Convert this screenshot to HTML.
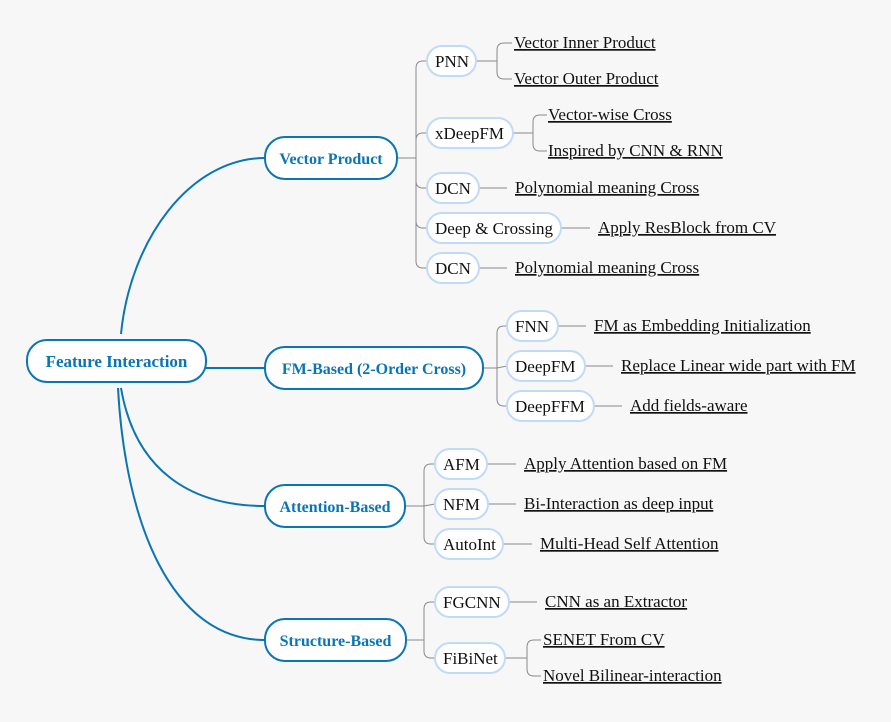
<!DOCTYPE html>
<html><head><meta charset="utf-8"><style>
html,body{margin:0;padding:0;background:#f7f7f7;}
svg{display:block;}
svg text{font-family:"Liberation Serif","Noto Serif CJK SC","DejaVu Serif",serif !important;}
</style></head><body>
<svg id="s" width="891" height="722" xmlns="http://www.w3.org/2000/svg">
<rect width="891" height="722" fill="#f7f7f7"/>
<g fill="none" stroke="#0a75b5" stroke-width="2">
<path d="M121,334 C130,240 190,158 265,158"/>
<path d="M206,368 L265,368"/>
<path d="M121,388 C135,470 190,506 265,506"/>
<path d="M118,388 C125,520 170,640 265,640"/>
</g>
<g id="g"></g>
</svg>
<script>
const g=document.getElementById('g');let h='';
const F='font-family="\'Liberation Serif\', \'Noto Serif CJK SC\', \'DejaVu Serif\', serif"';
function path(d,c,w){h+=`<path d="${d}" fill="none" stroke="${c}" stroke-width="${w}"/>`;}
function bracket(px,py,bx,kids){
 path(`M${px},${py} L${bx},${py}`,'#8a8a8a',1);
 kids.forEach(([cx,cy])=>{
  if(Math.abs(cy-py)<3){path(`M${bx},${py} L${cx},${cy}`,'#8a8a8a',1);return;}
  const s=cy>py?1:-1;
  path(`M${bx},${py} L${bx},${cy-s*7} Q${bx},${cy} ${bx+7},${cy} L${cx},${cy}`,'#8a8a8a',1);
 });
}
function line(x1,x2,y){path(`M${x1},${y} L${x2},${y}`,'#8a8a8a',1);}
function main(x1,x2,y,t,fs){h+=`<rect x="${x1}" y="${y-21}" width="${x2-x1}" height="42" rx="20" fill="#fff" stroke="#0a75b5" stroke-width="2"/><text ${F} x="${(x1+x2)/2}" y="${y+6}" text-anchor="middle" font-size="${fs||16}" font-weight="bold" fill="#0a75b5">${t}</text>`;}
function node(x1,x2,y,t){h+=`<rect x="${x1}" y="${y-15}" width="${x2-x1}" height="30" rx="15" fill="#fff" stroke="#c0dafa" stroke-width="2"/><text ${F} x="${x1+8}" y="${y+6}" font-size="17" fill="#111">${t}</text>`;}
function leaf(x,y,t){h+=`<text ${F} x="${x}" y="${y+5}" font-size="17" fill="#111" text-decoration="underline">${t}</text>`;}
bracket(397,158,416,[[427,61],[427,133],[427,188],[427,228],[427,268]]);
bracket(476,61,497,[[512,43],[512,79]]);
bracket(513,133,533,[[547,115],[547,151]]);
line(479,507,188);line(561,590,228);line(479,507,268);
bracket(483,368,497,[[507,326],[507,366],[507,406]]);
line(558,586,326);line(585,613,366);line(594,622,406);
bracket(405,506,424,[[435,464],[435,504],[435,544]]);
line(487,516,464);line(488,516,504);line(503,532,544);
bracket(406,640,424,[[435,602],[435,658]]);
line(509,537,602);
bracket(505,658,527,[[541,640],[541,676]]);
main(27,206,361,'Feature Interaction',17);
main(265,397,158,'Vector Product');
main(265,483,368,'FM-Based (2-Order Cross)');
main(265,405,506,'Attention-Based');
main(265,406,640,'Structure-Based');
node(427,476,61,'PNN');node(427,513,133,'xDeepFM');node(427,479,188,'DCN');node(427,561,228,'Deep &amp; Crossing');node(427,479,268,'DCN');
node(507,558,326,'FNN');node(507,585,366,'DeepFM');node(507,594,406,'DeepFFM');
node(435,487,464,'AFM');node(435,488,504,'NFM');node(435,503,544,'AutoInt');
node(435,509,602,'FGCNN');node(435,505,658,'FiBiNet');
leaf(514,43,'Vector Inner Product');leaf(514,79,'Vector Outer Product');
leaf(548,115,'Vector-wise Cross');leaf(548,151,'Inspired by CNN &amp; RNN');
leaf(515,188,'Polynomial meaning Cross');leaf(598,228,'Apply ResBlock from CV');leaf(515,268,'Polynomial meaning Cross');
leaf(594,326,'FM as Embedding Initialization');leaf(621,366,'Replace Linear wide part with FM');leaf(630,406,'Add fields-aware');
leaf(524,464,'Apply Attention based on FM');leaf(524,504,'Bi-Interaction as deep input');leaf(540,544,'Multi-Head Self Attention');
leaf(545,602,'CNN as an Extractor');leaf(543,640,'SENET From CV');leaf(543,676,'Novel Bilinear-interaction');
g.innerHTML=h;
</script>
</body></html>
